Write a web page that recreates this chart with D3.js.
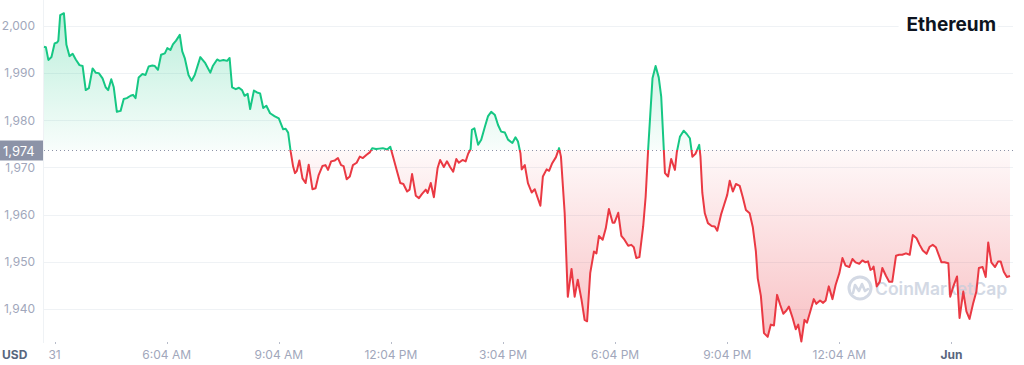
<!DOCTYPE html>
<html><head><meta charset="utf-8">
<script src="https://cdn.jsdelivr.net/npm/d3@7"></script>
<style>
body{margin:0;background:#fff;}
svg{display:block;font-family:Inter,"Noto Sans",sans-serif;}
</style>
</head><body>
<svg id="c" width="1024" height="365"></svg>
<script>
// time in minutes since 31 May 00:00 (as labelled), price in USD
const minutes = [167,170,174,179,184,188,190,193,199,203,208,213,218,224,229,234,239,245,250,255,261,266,270,275,279,284,290,295,300,306,310,314,319,325,330,335,341,345,350,355,361,365,370,374,379,385,389,393,399,404,409,418,426,434,438,445,449,455,461,465,469,475,480,485,489,494,498,504,509,514,519,524,530,537,544,551,555,559,563,567,570,573,577,
582,587,592,598,603,608,614,619,623,628,634,639,644,648,653,658,663,669,674,679,685,690,694,700,705,711,718,723,728,734,739,744,750,754,758,764,769,774,780,783,788,793,799,803,809,814,819,824,829,833,839,844,848,852,854,858,864,869,875,880,885,891,896,901,907,912,919,924,928,932,934,939,944,950,955,959,964,968,974,978,983,989,994,997,
1003,1008,1014,1019,1024,1030,1035,1039,1044,1050,1054,1058,1064,1069,1074,1080,1083,1089,1094,1099,1105,1110,1114,1118,1123,1129,1133,1137,1144,1149,1154,1158,1164,1169,1174,1180,1183,1188,1194,1199,1204,1208,1213,1219,1221,1224,1228,1233,1239,1244,1248,1254,1259,1264,1268,1273,1278,1284,1289,1294,1300,1305,1310,1313,1318,1323,1329,1334,1339,1344,1349,1354,1359,1363,1369,1374,1378,1383,1388,1392,1398,1403,1407,1413,1418,1422,1427,1433,1438,1444,1449,1454,1460,1465,1470,1476,1481,1486,1490,1494,1497,1499,1504,1509,1513,1519,1524,1529,1535,1540,1545,1551,1557,1562,1568,1573,1578,1584,1589,1594,1599,1604,1608,1613,1619,1622,1627,1633,1637,1643,1648,1653,1659,1664,1668,1674,1679,1683,1688,1694,1699,1703,1708,1713,1718];
const prices = [1995.6,1995.5,1992.8,1993.4,1996.3,1996.5,1996.9,2002.3,2002.7,1996.0,1993.6,1994.1,1992.9,1991.7,1991.5,1986.4,1986.8,1991.0,1990.1,1990.0,1988.9,1987.0,1986.4,1988.7,1987.0,1981.8,1982.0,1984.5,1984.7,1985.2,1985.4,1984.7,1989.1,1989.8,1989.6,1991.4,1991.6,1991.5,1990.7,1993.9,1994.2,1995.3,1994.9,1996.1,1996.9,1998.1,1994.6,1993.2,1989.6,1988.4,1989.6,1993.4,1992.1,1990.1,1991.5,1992.9,1992.6,1992.8,1992.6,1993.2,1987.0,1986.6,1986.9,1986.4,1985.2,1985.6,1982.4,1986.3,1985.9,1985.7,1982.6,1983.1,1981.5,1980.9,1980.4,1978.1,1978.2,1977.4,1973.4,1970.2,1968.8,1969.3,1971.5,
1967.7,1966.7,1970.6,1965.4,1965.6,1968.4,1970.3,1970.5,1969.5,1971.3,1971.5,1972.0,1970.5,1970.3,1967.5,1968.1,1970.5,1971.0,1972.3,1972.0,1972.7,1973.2,1974.1,1973.9,1974.0,1974.1,1973.8,1974.4,1972.0,1969.1,1966.7,1966.5,1964.9,1965.3,1968.6,1964.0,1963.5,1964.4,1965.3,1964.6,1966.7,1963.7,1969.9,1971.6,1970.1,1971.3,1970.1,1969.1,1971.8,1971.0,1971.6,1971.3,1972.9,1973.9,1978.0,1978.3,1974.8,1975.9,1978.7,1980.9,1981.8,1981.1,1979.0,1977.6,1977.4,1975.9,1975.2,1976.4,1975.5,1973.0,1969.6,1970.5,1966.7,1964.7,1965.4,1963.8,1961.9,1968.1,1969.6,1969.3,1970.9,1972.2,1974.1,1972.3,
1960.3,1942.6,1948.5,1942.6,1946.2,1942.0,1937.7,1937.4,1947.6,1952.2,1951.8,1955.5,1954.7,1957.1,1961.2,1958.3,1958.3,1960.4,1955.5,1954.7,1953.4,1953.6,1953.1,1950.8,1951.0,1957.5,1963.8,1973.8,1988.9,1991.5,1989.1,1985.0,1968.8,1968.1,1971.8,1969.5,1973.2,1976.5,1977.8,1977.1,1976.2,1972.3,1972.9,1974.8,1972.3,1964.6,1960.3,1958.2,1957.6,1957.5,1956.6,1960.0,1962.1,1964.2,1967.2,1964.9,1966.5,1966.1,1963.7,1961.0,1960.3,1957.4,1952.2,1946.5,1942.8,1934.9,1934.1,1936.7,1936.5,1943.0,1940.9,1939.0,1939.7,1940.5,1938.1,1935.7,1936.7,1933.1,1937.7,1937.1,1939.8,1942.1,1941.1,1941.8,1941.3,1941.8,1944.8,1942.1,1945.1,1947.6,1950.8,1949.2,1948.9,1950.6,1949.9,1949.6,1950.3,1949.9,1950.1,1948.3,1948.5,1949.0,1944.8,1945.8,1948.7,1947.0,1945.8,1945.8,1951.3,1951.5,1951.5,1951.8,1951.5,1955.7,1955.0,1953.6,1952.4,1951.7,1953.2,1953.6,1953.1,1951.3,1949.9,1949.9,1949.7,1942.6,1944.8,1946.9,1938.1,1943.7,1939.5,1937.9,1941.3,1943.7,1948.7,1948.9,1946.8,1954.1,1949.9,1948.9,1950.1,1950.1,1947.9,1946.8,1947.0];
const openPrice = 1973.7;
const openLabel = "1,974";
const yTickValues = [1940,1950,1960,1970,1980,1990,2000];
const xTickMinutes = [184,364,544,724,904,1084,1264,1444,1624];
const xTickLabels = ["31","6:04 AM","9:04 AM","12:04 PM","3:04 PM","6:04 PM","9:04 PM","12:04 AM","Jun"];
const boldXLabels = ["Jun"];
const titleText = "Ethereum";
const currencyText = "USD";
const watermarkText = "CoinMarketCap";

const data = minutes.map((m,i)=>({m, v: prices[i]}));
const W = 1024, H = 365;
const plot = {left: 44, right: 1010, top: 0, bottom: 343, gridRight: 1013};
const GREEN = "#16c784", RED = "#ea3943";

const svg = d3.select("#c");
const x = d3.scaleLinear().domain(d3.extent(minutes)).range([plot.left, plot.right]);
const y = d3.scaleLinear().domain([1932.8, 2005.5]).range([plot.bottom, plot.top]);
const yBase = y(openPrice);

const defs = svg.append("defs");
const gG = defs.append("linearGradient").attr("id","gGreen").attr("gradientUnits","userSpaceOnUse")
  .attr("x1",0).attr("x2",0).attr("y1",plot.top).attr("y2",yBase);
gG.append("stop").attr("offset","0").attr("stop-color",GREEN).attr("stop-opacity",0.32);
gG.append("stop").attr("offset","1").attr("stop-color",GREEN).attr("stop-opacity",0.03);
const gR = defs.append("linearGradient").attr("id","gRed").attr("gradientUnits","userSpaceOnUse")
  .attr("x1",0).attr("x2",0).attr("y1",yBase).attr("y2",plot.bottom);
gR.append("stop").attr("offset","0").attr("stop-color",RED).attr("stop-opacity",0.03);
gR.append("stop").attr("offset","1").attr("stop-color",RED).attr("stop-opacity",0.32);
defs.append("clipPath").attr("id","cAbove").append("rect")
  .attr("x",0).attr("y",-10).attr("width",W).attr("height",yBase+10);
defs.append("clipPath").attr("id","cBelow").append("rect")
  .attr("x",0).attr("y",yBase).attr("width",W).attr("height",H);

// grid
svg.append("g").selectAll("line").data(yTickValues).join("line")
  .attr("x1",plot.left).attr("x2",plot.gridRight)
  .attr("y1",d=>Math.round(y(d))+0.5).attr("y2",d=>Math.round(y(d))+0.5)
  .attr("stroke","#eff2f5").attr("stroke-width",1);
svg.append("line").attr("x1",plot.left-0.5).attr("x2",plot.left-0.5)
  .attr("y1",0).attr("y2",plot.bottom).attr("stroke","#eff2f5");

// y labels
svg.append("g").selectAll("text").data(yTickValues).join("text")
  .attr("x",35).attr("y",d=>y(d)).attr("dy","0.35em").attr("text-anchor","end")
  .attr("font-size",12).attr("fill","#a1a7bb").text(d=>d3.format(",")(d));

// areas
const area = d3.area().x(d=>x(d.m)).y0(yBase).y1(d=>y(d.v));
const line = d3.line().x(d=>x(d.m)).y(d=>y(d.v));
svg.append("path").datum(data).attr("d",area).attr("fill","url(#gGreen)").attr("clip-path","url(#cAbove)");
svg.append("path").datum(data).attr("d",area).attr("fill","url(#gRed)").attr("clip-path","url(#cBelow)");

// watermark
const wm = svg.append("g").attr("opacity",0.75);
wm.append("circle").attr("cx",860).attr("cy",288).attr("r",11).attr("fill","none")
  .attr("stroke","#c5cddc").attr("stroke-width",3);
wm.append("path").attr("d","M853,293 L855,285 L859,291 L862,284 L865,291 L868,289")
  .attr("fill","none").attr("stroke","#c5cddc").attr("stroke-width",2.6).attr("stroke-linejoin","round").attr("stroke-linecap","round");
wm.append("text").attr("x",875).attr("y",294.5).attr("font-size",17.5).attr("font-weight",600)
  .attr("fill","#c5cddc").text(watermarkText);

// baseline
svg.append("line").attr("x1",plot.left).attr("x2",plot.gridRight)
  .attr("y1",Math.round(yBase)+0.5).attr("y2",Math.round(yBase)+0.5)
  .attr("stroke","#8c93a7").attr("stroke-width",1).attr("stroke-dasharray","1,3");

// lines
svg.append("path").datum(data).attr("d",line).attr("fill","none").attr("stroke",GREEN)
  .attr("stroke-width",2).attr("stroke-linejoin","round").attr("clip-path","url(#cAbove)");
svg.append("path").datum(data).attr("d",line).attr("fill","none").attr("stroke",RED)
  .attr("stroke-width",2).attr("stroke-linejoin","round").attr("clip-path","url(#cBelow)");

// open price label
svg.append("rect").attr("x",0).attr("y",Math.round(yBase)-9.5).attr("width",plot.left-1).attr("height",20).attr("fill","#8c93a7");
svg.append("text").attr("x",3).attr("y",yBase+1).attr("dy","0.35em").attr("font-size",13)
  .attr("fill","#fff").text(openLabel);

// x axis
const xAxisG = svg.append("g");
xAxisG.selectAll("line").data(xTickMinutes).join("line")
  .attr("x1",d=>Math.round(x(d))+0.5).attr("x2",d=>Math.round(x(d))+0.5)
  .attr("y1",342).attr("y2",344).attr("stroke","#b8bdca");
xAxisG.selectAll("text").data(xTickMinutes).join("text")
  .attr("x",d=>x(d)).attr("y",355).attr("dy","0.35em").attr("text-anchor","middle")
  .attr("font-size",12)
  .attr("font-weight",(d,i)=>boldXLabels.includes(xTickLabels[i])?700:400)
  .attr("fill",(d,i)=>boldXLabels.includes(xTickLabels[i])?"#58667e":"#a1a7bb")
  .text((d,i)=>xTickLabels[i]);
svg.append("text").attr("x",2).attr("y",355).attr("dy","0.35em").attr("font-size",12)
  .attr("font-weight",700).attr("fill","#58667e").text(currencyText);

// title with white backing
const titleG = svg.append("g");
const bgRect = titleG.append("rect").attr("fill","#fff");
const t = titleG.append("text").attr("x",996).attr("y",31).attr("text-anchor","end")
  .attr("font-size",19).attr("font-weight",700).attr("fill","#0d1421").text(titleText);
const bb = t.node().getBBox();
bgRect.attr("x",bb.x-8).attr("y",bb.y).attr("width",bb.width+10).attr("height",bb.height);
</script>
</body></html>
